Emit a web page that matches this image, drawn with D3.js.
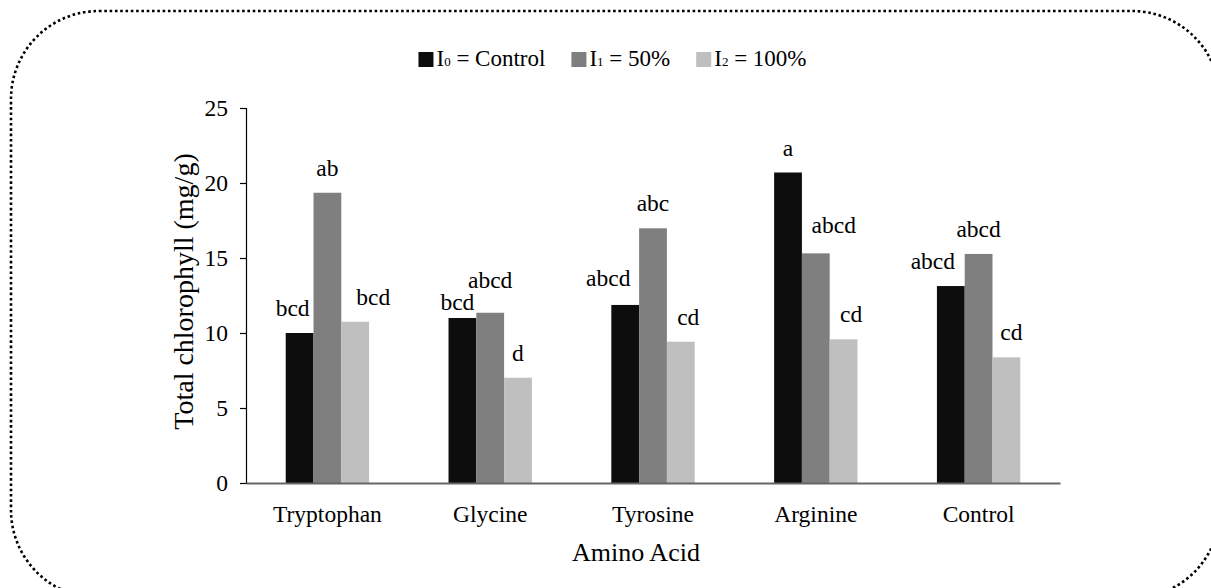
<!DOCTYPE html>
<html>
<head>
<meta charset="utf-8">
<script src="https://cdn.jsdelivr.net/npm/d3@7"></script>
<style>
  body { margin: 0; background: #fff; }
  text { font-family: "Liberation Serif", "Times New Roman", serif; fill: #000; }
</style>
</head>
<body>
<div id="chart"></div>
<script>
// Data
var categories = ["Tryptophan", "Glycine", "Tyrosine", "Arginine", "Control"];
var seriesKeys = ["I0", "I1", "I2"];
var seriesLabels = [["I", "0", " = Control"], ["I", "1", " = 50%"], ["I", "2", " = 100%"]];
var i0Values = [10.0, 11.0, 11.87, 20.7, 13.13];
var i1Values = [19.35, 11.35, 16.98, 15.31, 15.27];
var i2Values = [10.75, 7.02, 9.42, 9.58, 8.38];
var i0Letters = ["bcd", "bcd", "abcd", "a", "abcd"];
var i1Letters = ["ab", "abcd", "abc", "abcd", "abcd"];
var i2Letters = ["bcd", "d", "cd", "cd", "cd"];
var yTicks = [0, 5, 10, 15, 20, 25];

// Layout only: nudges of the letter labels as placed in the original
var labelDx = [[-7, -5, -17, 0, -18], [0, 0, 0, 18, 0], [18, 0, 7.5, 7.5, 5]];
var labelDy = [[0, 9, -2, 0, 0], [0, -8, 0, -3, 0], [0, 0, 0, 0, 0]];

var colors = ["#0d0d0d", "#7f7f7f", "#bfbfbf"];
var W = 1211, H = 588;
var plot = { left: 246, right: 1060, top: 108, bottom: 483 };

var svg = d3.select("#chart").append("svg")
  .attr("width", W).attr("height", H);

// dotted rounded frame
svg.append("rect")
  .attr("x", 11).attr("y", 11)
  .attr("width", 1209).attr("height", 587)
  .attr("rx", 88).attr("ry", 88)
  .attr("fill", "none")
  .attr("stroke", "#000")
  .attr("stroke-width", 2.6)
  .attr("stroke-dasharray", "2.6 2.7");

var x0 = d3.scaleBand().domain(categories)
  .range([plot.left, plot.right])
  .paddingInner(0.488).paddingOuter(0.244);
var x1 = d3.scaleBand().domain(seriesKeys).range([0, x0.bandwidth()]);
var y = d3.scaleLinear().domain([0, 25]).range([plot.bottom, plot.top]);

var values = [i0Values, i1Values, i2Values];
var letters = [i0Letters, i1Letters, i2Letters];

// bars and letter labels
seriesKeys.forEach(function(k, s) {
  svg.append("g").selectAll("rect")
    .data(values[s])
    .enter().append("rect")
    .attr("x", function(d, i) { return x0(categories[i]) + x1(k); })
    .attr("y", function(d) { return y(d); })
    .attr("width", x1.bandwidth())
    .attr("height", function(d) { return y(0) - y(d); })
    .attr("fill", colors[s]);

  svg.append("g").selectAll("text")
    .data(letters[s])
    .enter().append("text")
    .attr("x", function(d, i) { return x0(categories[i]) + x1(k) + x1.bandwidth() / 2 + labelDx[s][i]; })
    .attr("y", function(d, i) { return y(values[s][i]) - 17 + labelDy[s][i]; })
    .attr("text-anchor", "middle")
    .style("font-size", "23.5px")
    .text(function(d) { return d; });
});

// y axis
var yAxis = svg.append("g")
  .attr("transform", "translate(" + plot.left + ",0)")
  .call(d3.axisLeft(y).tickValues(yTicks).tickSize(6).tickPadding(12));
yAxis.select(".domain").attr("stroke", "#000").attr("stroke-width", 1.2);
yAxis.selectAll(".tick line").attr("stroke", "#000").attr("stroke-width", 1.2);
yAxis.selectAll(".tick text")
  .style("font-family", "'Liberation Serif', serif")
  .style("font-size", "23.5px").attr("fill", "#000");

// x axis
var xAxis = svg.append("g")
  .attr("transform", "translate(0," + plot.bottom + ")")
  .call(d3.axisBottom(x0).tickSize(0).tickPadding(22));
xAxis.select(".domain").attr("stroke", "#666").attr("stroke-width", 1.8);
xAxis.selectAll(".tick text")
  .style("font-family", "'Liberation Serif', serif")
  .style("font-size", "23.5px").attr("fill", "#000");

// axis titles
svg.append("text")
  .attr("transform", "translate(193," + ((plot.top + plot.bottom) / 2 - 4) + ") rotate(-90)")
  .attr("text-anchor", "middle")
  .style("font-size", "28px")
  .text("Total chlorophyll (mg/g)");

svg.append("text")
  .attr("x", 636)
  .attr("y", 561)
  .attr("text-anchor", "middle")
  .style("font-size", "26px")
  .text("Amino Acid");

// legend
var legend = svg.append("g");
var lx = 0;
seriesKeys.forEach(function(k, s) {
  var g = legend.append("g").attr("transform", "translate(" + lx + ",0)");
  g.append("rect").attr("x", 0).attr("y", 52).attr("width", 15).attr("height", 15)
    .attr("fill", colors[s]);
  var t = g.append("text").attr("x", 18).attr("y", 66).style("font-size", "23px");
  t.append("tspan").text(seriesLabels[s][0]);
  t.append("tspan").style("font-size", "13px").text(seriesLabels[s][1]);
  t.append("tspan").text(seriesLabels[s][2]);
  lx += 18 + t.node().getComputedTextLength() + 26;
});
var legendW = lx - 26;
legend.attr("transform", "translate(" + (612.5 - legendW / 2) + ",0)");
</script>
</body>
</html>
